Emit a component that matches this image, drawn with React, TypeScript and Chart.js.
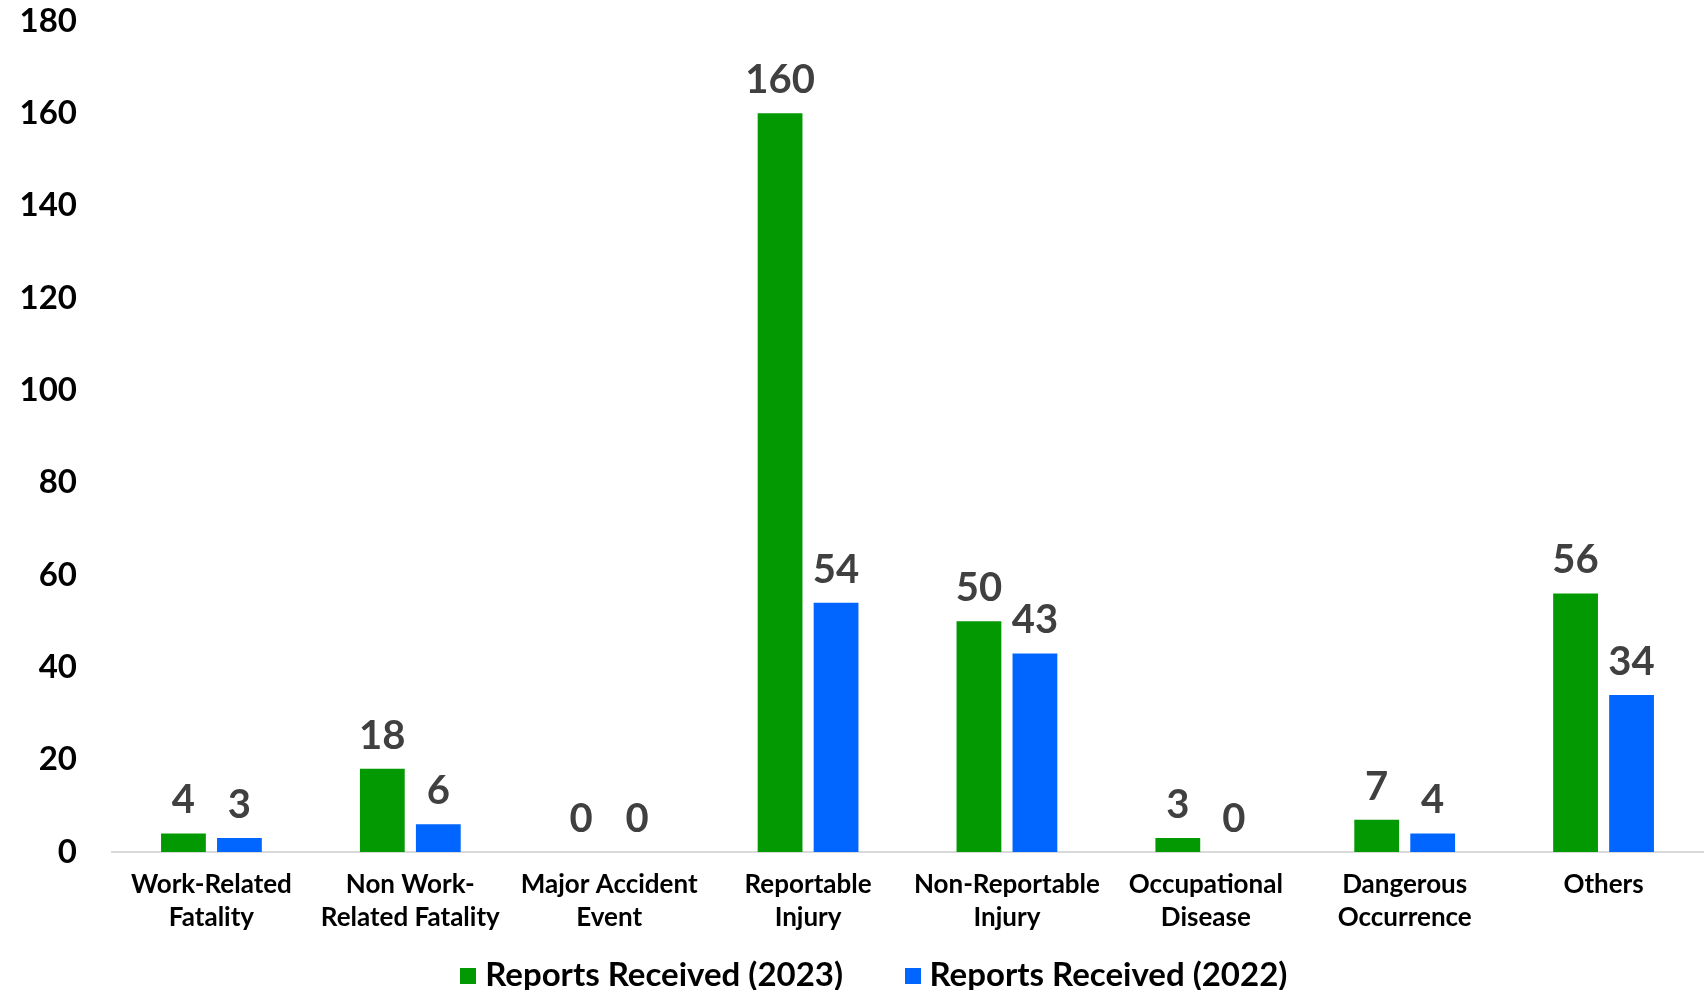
import React, { useEffect, useRef } from "react";
import { Chart, registerables } from "chart.js";

Chart.register(...registerables);

const categories: string[][] = [
  ["Work-Related", "Fatality"],
  ["Non Work-", "Related Fatality"],
  ["Major Accident", "Event"],
  ["Reportable", "Injury"],
  ["Non-Reportable", "Injury"],
  ["Occupational", "Disease"],
  ["Dangerous", "Occurrence"],
  ["Others"],
];
const reports2023: number[] = [4, 18, 0, 160, 50, 3, 7, 56];
const reports2022: number[] = [3, 6, 0, 54, 43, 0, 4, 34];
const seriesNames: string[] = ["Reports Received (2023)", "Reports Received (2022)"];
const seriesColors: string[] = ["#039903", "#0066FF"];

const FONT = "Lato, 'Noto Sans', sans-serif";
const X_SHRINK = 60;

const valueLabels = {
  id: "valueLabels",
  afterDatasetsDraw(chart: any) {
    const ctx = chart.ctx;
    ctx.save();
    ctx.font = `bold 40px ${FONT}`;
    ctx.fillStyle = "#404040";
    ctx.textAlign = "center";
    ctx.textBaseline = "alphabetic";
    chart.data.datasets.forEach((ds: any, i: number) => {
      const meta = chart.getDatasetMeta(i);
      meta.data.forEach((el: any, j: number) => {
        ctx.fillText(String(ds.data[j]), el.x, el.y - 20);
      });
    });
    ctx.restore();
  },
};

const layoutTweaks = {
  id: "layoutTweaks",
  afterLayout(chart: any) {
    if (chart.legend) {
      chart.legend.left += 26;
      chart.legend.right += 26;
    }
    const x = chart.scales.x;
    if (x) {
      // let the category labels overflow into the legend's spare padding
      x.bottom += X_SHRINK;
      x.height += X_SHRINK;
    }
  },
};

function makeSwatch(color: string): HTMLCanvasElement {
  const c = document.createElement("canvas");
  c.width = 16;
  c.height = 16;
  const g = c.getContext("2d")!;
  g.fillStyle = color;
  g.fillRect(0, 0, 16, 16);
  return c;
}

export default function App() {
  const ref = useRef<HTMLCanvasElement | null>(null);
  useEffect(() => {
    document.body.style.margin = "0";
    if (!ref.current) return;
    const swatches = seriesColors.map(makeSwatch);
    const chart = new Chart(ref.current, {
      type: "bar",
      data: {
        labels: categories,
        datasets: [
          {
            label: seriesNames[0],
            data: reports2023,
            backgroundColor: seriesColors[0],
            barPercentage: 0.8,
            categoryPercentage: 0.563,
          },
          {
            label: seriesNames[1],
            data: reports2022,
            backgroundColor: seriesColors[1],
            barPercentage: 0.8,
            categoryPercentage: 0.563,
          },
        ],
      },
      options: {
        animation: false,
        responsive: false,
        maintainAspectRatio: false,
        layout: { padding: { top: 0, right: 3, bottom: -12, left: 0 } },
        plugins: {
          tooltip: { enabled: false },
          legend: {
            position: "bottom",
            labels: {
              usePointStyle: true,
              pointStyleWidth: 1,
              boxHeight: 16,
              padding: 69,
              color: "#000",
              font: { family: FONT, size: 33, weight: "bold" },
              generateLabels: (ch: any) => {
                const items = (Chart as any).defaults.plugins.legend.labels.generateLabels(ch);
                items.forEach((it: any, i: number) => {
                  it.pointStyle = swatches[i];
                });
                return items;
              },
            },
          },
        },
        scales: {
          x: {
            grid: { display: false, drawTicks: false },
            border: { display: true, color: "#d9d9d9", width: 2 },
            ticks: {
              color: "#000",
              font: { family: FONT, size: 26, weight: "bold", lineHeight: 1.27 },
              maxRotation: 0,
              autoSkip: false,
              padding: 16,
            },
            afterFit: (scale: any) => {
              scale.height -= X_SHRINK;
            },
          },
          y: {
            min: 0,
            max: 180,
            grid: { display: false, drawTicks: false },
            border: { display: false },
            ticks: {
              stepSize: 20,
              color: "#000",
              font: { family: FONT, size: 33, weight: "bold" },
              padding: 35,
            },
            afterFit: (scale: any) => {
              scale.width = 112;
              scale.paddingTop = 21;
            },
          },
        },
      },
      plugins: [valueLabels, layoutTweaks],
    });
    return () => chart.destroy();
  }, []);
  return (
    <div style={{ width: 1706, height: 990, background: "#fff" }}>
      <canvas ref={ref} width={1706} height={990} style={{ display: "block" }} />
    </div>
  );
}
